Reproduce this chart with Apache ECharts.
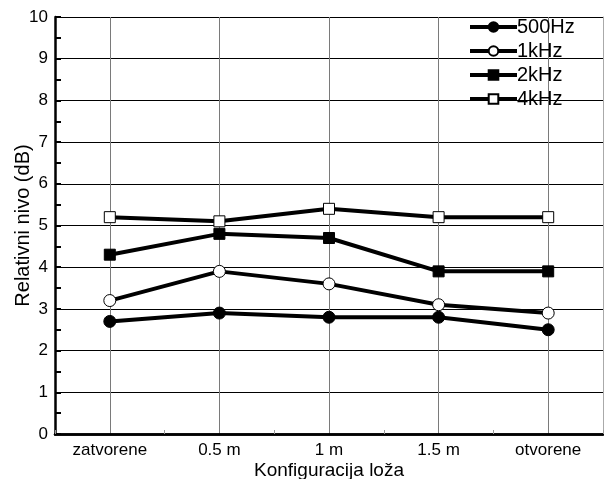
<!DOCTYPE html>
<html>
<head>
<meta charset="utf-8">
<script src="https://cdn.jsdelivr.net/npm/echarts@6/dist/echarts.min.js"></script>
<style>
  html, body { margin: 0; padding: 0; background: #fff; }
  #chart { width: 604px; height: 479px; }
</style>
</head>
<body>
<div id="chart"></div>
<script>
// konfiguracije lože
const categories = ['zatvorene', '0.5 m', '1 m', '1.5 m', 'otvorene'];

// relativni nivo (dB) po frekvencijama
const hz500 = [2.7, 2.9, 2.8, 2.8, 2.5];
const khz1 = [3.2, 3.9, 3.6, 3.1, 2.9];
const khz2 = [4.3, 4.8, 4.7, 3.9, 3.9];
const khz4 = [5.2, 5.1, 5.4, 5.2, 5.2];

const font = 'Liberation Sans, Arial, sans-serif';

function makeSeries(name, data, symbol, filled) {
  return {
    name: name,
    type: 'line',
    data: data,
    symbol: symbol,
    symbolSize: symbol == 'rect' ? 11 : 12,
    showAllSymbol: true,
    lineStyle: { color: '#000', width: 4 },
    itemStyle: {
      color: filled ? '#000' : '#fff',
      borderColor: '#000',
      borderWidth: 1
    },
    emphasis: { disabled: true },
    z: 3
  };
}

const chart = echarts.init(document.getElementById('chart'));
chart.setOption({
  animation: false,
  backgroundColor: '#fff',
  textStyle: { fontFamily: font },
  grid: { left: 55, top: 17, width: 548, height: 417, outerBoundsMode: 'none', containLabel: false },
  legend: {
    orient: 'vertical',
    left: 463,
    top: 12,
    itemWidth: 47,
    itemHeight: 12,
    itemGap: 4,
    lineStyle: { width: 4 },
    textStyle: { fontFamily: font, fontSize: 20, color: '#000', padding: [0, 0, 0, -5] },
    data: ['500Hz', '1kHz', '2kHz', '4kHz']
  },
  xAxis: [{
    type: 'category',
    data: categories,
    boundaryGap: true,
    name: 'Konfiguracija loža',
    nameLocation: 'middle',
    nameGap: 27,
    nameMoveOverlap: false,
    nameTextStyle: { fontFamily: font, fontSize: 19, color: '#000' },
    axisLine: { lineStyle: { color: '#000', width: 2.5 } },
    axisTick: { show: true, inside: true, length: 4, lineStyle: { color: '#999', width: 1 } },
    axisLabel: { color: '#000', fontSize: 17, fontFamily: font, margin: 8 },
    splitLine: { show: true, alignWithLabel: true, lineStyle: { color: '#7a7a7a', width: 1 } }
  }, {
    type: 'category',
    data: categories,
    position: 'top',
    axisLine: { lineStyle: { color: '#000', width: 2.5 } },
    axisTick: { show: false },
    axisLabel: { show: false },
    splitLine: { show: false }
  }],
  yAxis: [{
    type: 'value',
    min: 0,
    max: 10,
    interval: 1,
    name: 'Relativni nivo (dB)',
    nameLocation: 'middle',
    nameGap: 22,
    nameMoveOverlap: false,
    nameTextStyle: { fontFamily: font, fontSize: 20, color: '#000' },
    axisLine: { show: true, lineStyle: { color: '#000', width: 2.5 } },
    axisTick: { show: true, inside: true, length: 6, lineStyle: { color: '#000', width: 2 } },
    minorTick: { show: true, splitNumber: 2, length: 6, lineStyle: { color: '#000', width: 2 } },
    axisLabel: { color: '#000', fontSize: 17, fontFamily: font, margin: 7 },
    splitLine: { show: true, lineStyle: { color: '#000', width: 1 } }
  }, {
    type: 'value',
    min: 0,
    max: 10,
    interval: 1,
    position: 'right',
    axisLine: { show: true, lineStyle: { color: '#aaa', width: 1 } },
    axisTick: { show: false },
    axisLabel: { show: false },
    splitLine: { show: false }
  }],
  series: [
    makeSeries('500Hz', hz500, 'circle', true),
    makeSeries('1kHz', khz1, 'circle', false),
    makeSeries('2kHz', khz2, 'rect', true),
    makeSeries('4kHz', khz4, 'rect', false)
  ]
});
</script>
</body>
</html>
